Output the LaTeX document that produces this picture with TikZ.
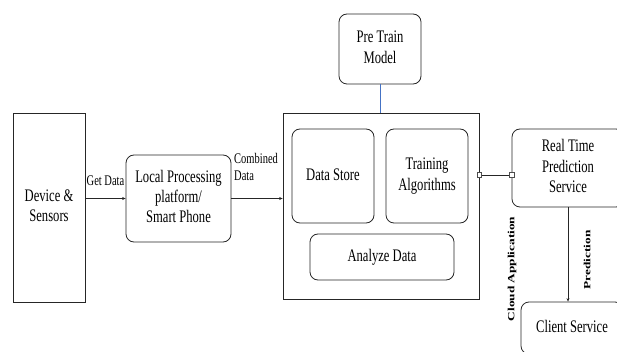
\documentclass[tikz,border=0pt]{standalone}
\usepackage{fontspec}
\usepackage{graphicx}
\setmainfont{Liberation Serif}
\usetikzlibrary{arrows.meta}
\newcommand\vtxt[2][c]{\scalebox{1}[1.4]{\begin{tabular}{@{}#1@{}}#2\end{tabular}}}
\newcommand\htxt[1]{\scalebox{1.4}[1]{#1}}
\definecolor{lnblue}{RGB}{68,114,196}
\begin{document}
\begin{tikzpicture}[x=1pt,y=-1pt,
  box/.style={draw=black!85,line width=0.8pt,inner sep=0pt,font=\fontsize{12.6}{14.4}\selectfont},
  rbox/.style={box,rounded corners=8pt},
  lbl/.style={inner sep=0pt,font=\fontsize{10.5}{12}\selectfont},
  rlbl/.style={inner sep=0pt,rotate=90,font=\fontsize{9.5}{11}\selectfont\bfseries},
  conn/.style={line width=0.7pt,draw=black!85},
  arr/.style={conn,-{Stealth[length=3.5pt,width=3pt]}},
  port/.style={draw=black!70,fill=white,line width=0.5pt,minimum size=4.5pt,inner sep=0pt}
]
\clip (0,0) rectangle (617,352);
\fill[white] (0,0) rectangle (617,352);
% boxes
\node[box,minimum width=72pt,minimum height=189pt] (dev) at (49,207.5) {\vtxt{Device \&\\Sensors}};
\node[rbox,minimum width=105pt,minimum height=87pt] (lp) at (178.5,198.5) {\vtxt{Local Processing\\platform/\\Smart Phone}};
\node[box,minimum width=196pt,minimum height=186pt] (big) at (381,206) {};
\node[rbox,minimum width=82pt,minimum height=70pt] (ptm) at (380,49) {\vtxt{Pre Train\\Model}};
\node[rbox,minimum width=82pt,minimum height=94pt] (ds) at (333,176) {\vtxt{Data Store}};
\node[rbox,minimum width=82pt,minimum height=94pt] (ta) at (427,176) {\vtxt{Training\\Algorithms}};
\node[rbox,minimum width=144pt,minimum height=46pt] (ad) at (382,257) {\vtxt{Analyze Data}};
\node[rbox,minimum width=112pt,minimum height=78pt] (rt) at (568,168) {\vtxt{Real Time\\Prediction\\Service}};
\node[rbox,minimum width=102pt,minimum height=52pt] (cs) at (572,328) {\vtxt{Client Service}};
% connectors
\draw[arr] (lp.west -| dev.east) -- (lp.west);
\draw[arr] (lp.east) -- (lp.east -| big.west);
\draw[line width=0.8pt,lnblue] (ptm.south) -- (ptm.south |- big.north);
\coordinate (j) at (0,175);
\node[port] (p1) at (big.east |- j) {};
\node[port] (p2) at (rt.west |- j) {};
\draw[conn] (p1) -- (p2);
\draw[arr] (rt.south) -- (rt.south |- cs.north);
% labels
\node[lbl] (gd) at (105.5,182) {\vtxt{Get Data}};
\node[lbl,anchor=west] (cd) at (234,169) {\vtxt[l]{Combined\\Data}};
\node[rlbl] (ca) at (512,269) {\htxt{Cloud Application}};
\node[rlbl] (pr) at (587,260) {\htxt{Prediction}};
\end{tikzpicture}
\end{document}
